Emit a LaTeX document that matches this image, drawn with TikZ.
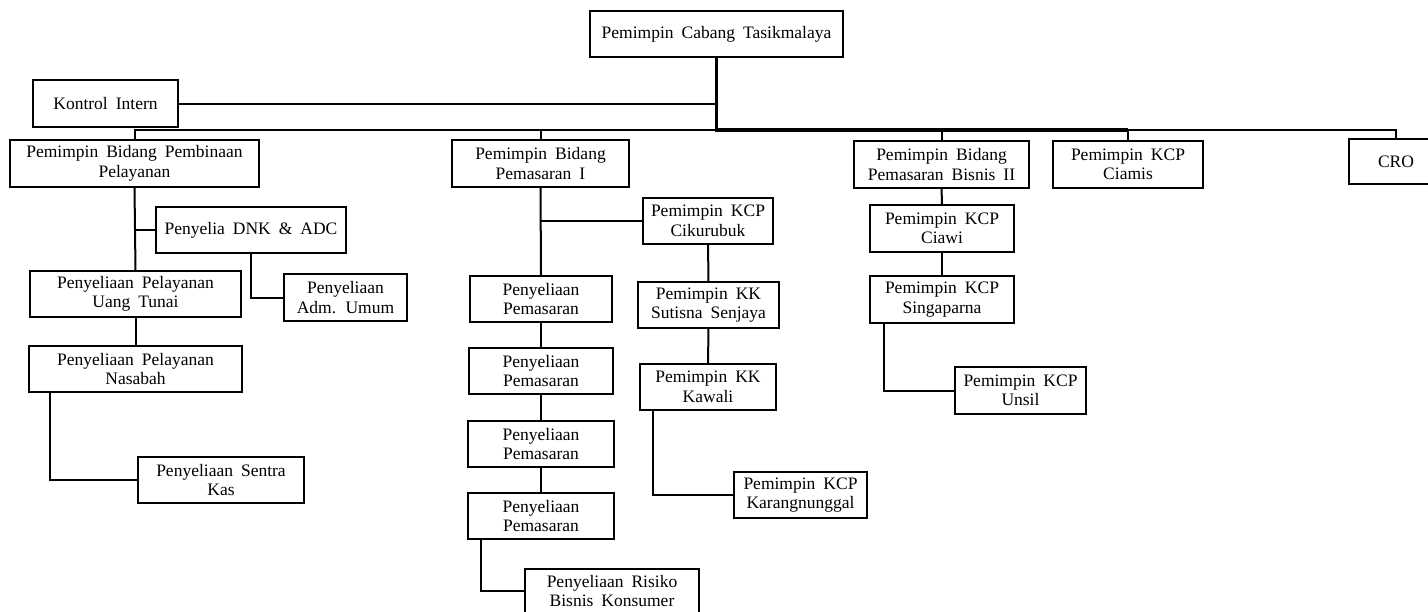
\documentclass[tikz,border=0pt]{standalone}
\usepackage{fontspec}
\setmainfont{Liberation Serif}
\usepackage{tikz}
\usetikzlibrary{positioning}
\newcommand{\unitfont}{\fontsize{17.5}{19.5}\selectfont\spaceskip=8pt\relax}
\tikzset{
unit/.style={rectangle,draw=black,line width=2.2pt,fill=white,inner sep=0pt,align=center,minimum height=46pt,font=\unitfont},
link/.style={line width=2pt,draw=black},
trunk/.style={line width=3.5pt,draw=black}
}

\begin{document}
\begin{tikzpicture}[x=1pt,y=-1pt]
\useasboundingbox (0,0) rectangle (1428,611);
\node[unit,minimum width=253pt] (top) at (716.5,34) {Pemimpin Cabang Tasikmalaya};
\node[unit,minimum width=145pt,minimum height=47pt] (kontrol) at (105.5,103.5) {Kontrol Intern};
\coordinate (bus) at (716.5,130);
\node[unit,minimum width=249pt,minimum height=47pt] (pembinaan) at (134.5,163.5) {Pemimpin Bidang Pembinaan\\Pelayanan};
\node[unit,minimum width=177pt,minimum height=47pt] (pemasaran) at (540.5,163.5) {Pemimpin Bidang\\Pemasaran I};
\node[unit,minimum width=175pt,minimum height=47pt] (bisnis) at (941.5,164.5) {Pemimpin Bidang\\Pemasaran Bisnis II};
\node[unit,minimum width=150pt,minimum height=47pt] (ciamis) at (1128,164.5) {Pemimpin KCP\\Ciamis};
\node[unit,minimum width=94pt,minimum height=45pt] (cro) at (1396,161.5) {CRO};
% bidang pembinaan pelayanan
\node[unit,minimum width=190pt] (dnk) at (251,230) {Penyelia DNK \& ADC};
\node[unit,minimum width=123pt,minimum height=47pt] (adm) at (345.5,297.5) {Penyeliaan\\Adm. Umum};
\node[unit,minimum width=211pt] (tunai) at (135.5,294) {Penyeliaan Pelayanan\\Uang Tunai};
\node[unit,minimum width=213pt] (nasabah) at (135.5,369) {Penyeliaan Pelayanan\\Nasabah};
\node[unit,minimum width=166pt] (sentra) at (221,480) {Penyeliaan Sentra\\Kas};
% bidang pemasaran I
\node[unit,minimum width=142pt] (pmsA) at (541,299) {Penyeliaan\\Pemasaran};
\node[unit,minimum width=144pt] (pmsB) at (541,371) {Penyeliaan\\Pemasaran};
\node[unit,minimum width=146pt] (pmsC) at (541,444) {Penyeliaan\\Pemasaran};
\node[unit,minimum width=146pt] (pmsD) at (541,516) {Penyeliaan\\Pemasaran};
\node[unit,minimum width=174pt,minimum height=44pt] (risiko) at (612,591) {Penyeliaan Risiko\\Bisnis Konsumer};
\node[unit,minimum width=130pt] (cikurubuk) at (708,221) {Pemimpin KCP\\Cikurubuk};
\node[unit,minimum width=141pt] (sutisna) at (708.5,305) {Pemimpin KK\\Sutisna Senjaya};
\node[unit,minimum width=136pt] (kawali) at (708,387) {Pemimpin KK\\Kawali};
\node[unit,minimum width=133pt] (karang) at (800.5,495) {Pemimpin KCP\\Karangnunggal};
% bidang pemasaran bisnis II
\node[unit,minimum width=144pt,minimum height=47pt] (ciawi) at (942,228.5) {Pemimpin KCP\\Ciawi};
\node[unit,minimum width=144pt,minimum height=47pt] (singaparna) at (942,299.5) {Pemimpin KCP\\Singaparna};
\node[unit,minimum width=131pt,minimum height=47pt] (unsil) at (1020.5,390.5) {Pemimpin KCP\\Unsil};
% connectors
\draw[link] (pembinaan.north) |- (bus) -| (cro.north);
\draw[trunk] (top.south) -- (bus) -- (bus -| ciamis.north);
\draw[link] (kontrol.east) -- (kontrol.east -| top.south);
\draw[link] (pemasaran.north) -- (pemasaran.north |- bus);
\draw[link] (bisnis.north) -- (bisnis.north |- bus);
\draw[link] (ciamis.north) -- (ciamis.north |- bus);
\draw[link] (pembinaan.south) -- (tunai.north);
\draw[link] (dnk.west) -- (dnk.west -| pembinaan.south);
\draw[link] (dnk.south) |- (adm.west);
\draw[link] (tunai.south) -- (nasabah.north);
\draw[link] ([xshift=22pt]nasabah.south west) |- (sentra.west);
\draw[link] (pemasaran.south) -- (pmsA.north);
\draw[link] (cikurubuk.west) -- (cikurubuk.west -| pemasaran.south);
\draw[link] (pmsA) -- (pmsB);
\draw[link] (pmsB) -- (pmsC);
\draw[link] (pmsC) -- (pmsD);
\draw[link] ([xshift=14pt]pmsD.south west) |- (risiko.west);
\draw[link] (cikurubuk) -- (sutisna);
\draw[link] (sutisna) -- (kawali);
\draw[link] ([xshift=14pt]kawali.south west) |- (karang.west);
\draw[link] (bisnis) -- (ciawi);
\draw[link] (ciawi) -- (singaparna);
\draw[link] ([xshift=15pt]singaparna.south west) |- (unsil.west);
\end{tikzpicture}
\end{document}
